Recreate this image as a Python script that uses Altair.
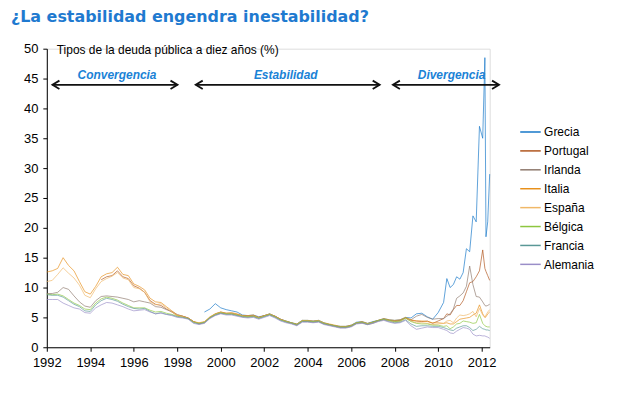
import altair as alt
import pandas as pd

# ---------------- data ----------------
T = [1992.0, 1992.25, 1992.5, 1992.75, 1993.0, 1993.25, 1993.5, 1993.75,
     1994.0, 1994.25, 1994.5, 1994.75, 1995.0, 1995.25, 1995.5, 1995.75,
     1996.0, 1996.25, 1996.5, 1996.75, 1997.0, 1997.25, 1997.5, 1997.75,
     1998.0, 1998.25, 1998.5, 1998.75,
     1999.0, 1999.25, 1999.5, 1999.75, 2000.0, 2000.25, 2000.5, 2000.75,
     2001.0, 2001.25, 2001.5, 2001.75, 2002.0, 2002.25, 2002.5, 2002.75,
     2003.0, 2003.25, 2003.5, 2003.75, 2004.0, 2004.25, 2004.5, 2004.75,
     2005.0, 2005.25, 2005.5, 2005.75, 2006.0, 2006.25, 2006.5, 2006.75,
     2007.0, 2007.25, 2007.5, 2007.75, 2008.0, 2008.25, 2008.5,
     2008.75, 2009.0, 2009.25, 2009.5, 2009.75, 2010.0, 2010.25, 2010.4,
     2010.55, 2010.7, 2010.85, 2011.0, 2011.15, 2011.3, 2011.45, 2011.6,
     2011.75, 2011.9, 2012.05, 2012.15, 2012.2, 2012.28, 2012.37]

N = None
GRECIA = [N] * 29 + [
    5.9, 6.4, 7.3, 6.6, 6.3, 6.1, 5.9,
    5.4, 5.3, 5.4, 5.1, 5.3, 5.6, 5.2, 4.7,
    4.4, 4.1, 3.9, 4.5, 4.5, 4.4, 4.5, 4.1,
    3.8, 3.6, 3.5, 3.5, 3.7, 4.2, 4.3, 4.0,
    4.3, 4.5, 4.8, 4.6, 4.5, 4.6, 5.0,
    4.9, 5.6, 5.7, 5.1, 4.7, 5.8, 7.5, 11.5,
    10.0, 10.5, 11.8, 11.4, 12.5, 16.5, 16.0, 22.0,
    21.0, 37.0, 35.0, 48.5, 18.5, 21.0, 29.0]

PORTUGAL = [N] * 10 + [
    11.3, 11.8, 12.0, 12.8, 11.8, 11.5,
    10.3, 9.9, 9.2, 7.8, 7.2, 7.0, 6.4, 5.9,
    5.3, 5.2, 4.9, 4.3,
    4.0, 4.2, 5.0, 5.6, 5.9, 5.7, 5.7, 5.5,
    5.3, 5.2, 5.3, 5.0, 5.3, 5.5, 5.2, 4.7,
    4.3, 4.1, 3.8, 4.4, 4.4, 4.3, 4.4, 4.0,
    3.8, 3.6, 3.4, 3.4, 3.6, 4.1, 4.2, 3.9,
    4.2, 4.5, 4.7, 4.5, 4.4, 4.5, 4.9,
    4.5, 4.4, 4.3, 4.4, 4.0, 4.4, 4.8, 5.6,
    5.4, 6.3, 7.0, 7.0, 7.8, 9.3, 10.8, 11.0,
    11.8, 12.8, 16.3, 13.2, 12.7, 12.0, 11.2]

IRLANDA = [
    9.0, 9.0, 9.2, 10.0, 9.7, 8.6, 7.6, 6.9,
    6.7, 7.8, 8.5, 8.6, 8.5, 8.4, 8.2, 8.0,
    7.6, 7.8, 7.6, 7.4, 6.8, 6.7, 6.3, 6.0,
    5.5, 5.2, 4.9, 4.3,
    3.9, 4.1, 4.9, 5.4, 5.7, 5.6, 5.6, 5.4,
    5.1, 5.1, 5.2, 4.9, 5.2, 5.5, 5.1, 4.6,
    4.3, 4.0, 3.7, 4.3, 4.3, 4.2, 4.3, 3.9,
    3.7, 3.5, 3.3, 3.3, 3.5, 4.0, 4.1, 3.8,
    4.0, 4.4, 4.7, 4.5, 4.3, 4.4, 4.9,
    4.6, 5.2, 5.5, 5.0, 4.7, 4.8, 4.8, 5.2,
    5.6, 6.4, 8.2, 8.6, 9.1, 10.2, 13.6, 10.5,
    8.5, 8.4, 7.6, 7.0, 6.9, 7.0, 7.2]

ITALIA = [
    12.6, 12.8, 13.2, 15.0, 13.7, 12.8, 11.0, 9.3,
    8.9, 10.2, 11.8, 12.3, 12.5, 13.4, 12.2, 12.0,
    10.6, 10.2, 9.6, 8.2, 7.6, 7.5, 6.8, 6.1,
    5.4, 5.2, 4.9, 4.3,
    4.1, 4.3, 5.1, 5.6, 5.9, 5.7, 5.8, 5.6,
    5.3, 5.3, 5.4, 5.0, 5.3, 5.6, 5.2, 4.7,
    4.4, 4.1, 3.9, 4.5, 4.5, 4.4, 4.5, 4.1,
    3.9, 3.7, 3.5, 3.5, 3.7, 4.1, 4.3, 4.0,
    4.2, 4.5, 4.8, 4.6, 4.5, 4.6, 5.0,
    4.6, 4.4, 4.4, 4.3, 4.1, 4.1, 4.0, 4.1,
    3.9, 3.9, 4.3, 4.7, 4.8, 4.9, 5.0, 5.4,
    5.7, 7.1, 5.6, 5.0, 5.1, 5.6, 5.9]

ESPANA = [
    11.0, 11.2, 12.2, 13.3, 12.4, 11.6, 10.4, 8.7,
    8.3, 9.8, 11.0, 11.5, 11.9, 12.5, 11.6, 11.3,
    10.0, 9.8, 9.2, 7.6, 7.1, 7.3, 6.6, 5.9,
    5.3, 5.1, 4.8, 4.2,
    4.0, 4.2, 5.0, 5.5, 5.8, 5.6, 5.6, 5.4,
    5.2, 5.1, 5.2, 4.9, 5.2, 5.5, 5.1, 4.6,
    4.3, 4.0, 3.8, 4.4, 4.4, 4.3, 4.4, 4.0,
    3.7, 3.5, 3.3, 3.3, 3.5, 4.0, 4.1, 3.9,
    4.1, 4.4, 4.6, 4.4, 4.2, 4.3, 4.8,
    4.4, 4.1, 4.1, 4.0, 3.8, 3.9, 4.0, 4.4,
    4.5, 4.1, 4.9, 5.4, 5.3, 5.4, 5.6, 6.0,
    5.1, 6.5, 5.4, 5.0, 5.4, 5.9, 6.3]

BELGICA = [
    8.9, 8.8, 8.9, 8.6, 8.0, 7.4, 7.0, 6.4,
    6.3, 7.4, 8.1, 8.4, 8.2, 7.9, 7.4, 7.0,
    6.6, 6.6, 6.6, 6.2, 5.9, 6.0, 5.7, 5.5,
    5.2, 5.0, 4.8, 4.2,
    4.0, 4.2, 5.0, 5.5, 5.8, 5.6, 5.6, 5.4,
    5.2, 5.1, 5.2, 4.9, 5.2, 5.5, 5.1, 4.6,
    4.3, 4.1, 3.8, 4.4, 4.4, 4.3, 4.4, 4.0,
    3.8, 3.6, 3.4, 3.4, 3.6, 4.1, 4.2, 3.9,
    4.2, 4.5, 4.7, 4.5, 4.3, 4.4, 4.9,
    4.3, 4.0, 3.9, 3.9, 3.7, 3.7, 3.5, 3.6,
    3.1, 3.4, 3.9, 4.0, 4.4, 4.3, 4.2, 4.0,
    4.1, 5.5, 4.0, 3.6, 3.5, 3.4, 3.4]

FRANCIA = [
    8.8, 8.7, 8.7, 8.4, 7.8, 7.2, 6.8, 6.1,
    6.0, 7.1, 7.8, 8.2, 8.0, 7.7, 7.2, 6.8,
    6.5, 6.4, 6.5, 6.0, 5.6, 5.8, 5.5, 5.4,
    5.1, 5.0, 4.8, 4.1,
    3.9, 4.1, 4.9, 5.4, 5.7, 5.5, 5.5, 5.3,
    5.1, 5.0, 5.1, 4.8, 5.1, 5.4, 5.0, 4.5,
    4.2, 4.0, 3.7, 4.3, 4.3, 4.2, 4.3, 3.9,
    3.7, 3.5, 3.3, 3.3, 3.5, 4.0, 4.1, 3.8,
    4.1, 4.4, 4.6, 4.3, 4.1, 4.2, 4.6,
    3.9, 3.5, 3.6, 3.6, 3.5, 3.5, 3.3, 3.1,
    2.9, 2.8, 3.2, 3.4, 3.6, 3.6, 3.3, 2.8,
    3.0, 3.5, 3.1, 3.0, 2.9, 2.9, 2.8]

ALEMANIA = [
    8.0, 8.0, 8.0, 7.4, 7.0, 6.6, 6.4, 5.8,
    5.7, 6.6, 7.1, 7.5, 7.4, 7.1, 6.8, 6.4,
    6.1, 6.2, 6.3, 5.9, 5.6, 5.7, 5.5, 5.3,
    5.0, 4.9, 4.7, 4.0,
    3.8, 4.0, 4.8, 5.3, 5.6, 5.4, 5.4, 5.2,
    5.0, 4.9, 5.0, 4.7, 5.0, 5.3, 4.9, 4.4,
    4.1, 3.9, 3.6, 4.2, 4.2, 4.1, 4.2, 3.8,
    3.6, 3.4, 3.2, 3.2, 3.4, 3.9, 4.0, 3.8,
    4.0, 4.3, 4.5, 4.2, 4.0, 4.1, 4.5,
    3.6, 3.0, 3.2, 3.4, 3.3, 3.3, 3.0, 2.8,
    2.4, 2.3, 2.7, 3.0, 3.3, 3.2, 3.0, 2.2,
    1.9, 2.0, 1.9, 1.9, 1.8, 1.7, 1.5]

SERIES = ["Grecia", "Portugal", "Irlanda", "Italia", "España", "Bélgica", "Francia", "Alemania"]
VALUES = [GRECIA, PORTUGAL, IRLANDA, ITALIA, ESPANA, BELGICA, FRANCIA, ALEMANIA]
COLORS = ["#1577c8", "#b0561e", "#8f7a6e", "#e8901a", "#f0b868", "#8dc63f", "#5a9896", "#9a8ec8"]

TITLE = "¿La estabilidad engendra inestabilidad?"
SUBTITLE = "Tipos de la deuda pública a diez años (%)"

ANN_TEXT = ["Convergencia", "Estabilidad", "Divergencia"]
ANN_START = [1992.26, 1998.85, 2007.92]
ANN_END = [1998.01, 2007.31, 2012.80]
ANN_MID = [1995.23, 2002.99, 2010.62]
ANN_LEVEL = 43.95

X_TICKS = list(range(1992, 2013, 2))
Y_TICKS = list(range(0, 51, 5))

# ---------------- build ----------------
rows = []
for name, vals in zip(SERIES, VALUES):
    for t, v in zip(T, vals):
        if v is not None:
            rows.append({"serie": name, "t": t, "v": v})
df = pd.DataFrame(rows)

FONT = "Liberation Sans"
W, H = 445, 300
X0, X1 = 1992.0, 2012.37
xscale = alt.Scale(domain=[X0, X1], nice=False, zero=False)
yscale = alt.Scale(domain=[0, 50], nice=False)

lines = alt.Chart(df).mark_line(strokeWidth=0.8, opacity=0.85, clip=False).encode(
    x=alt.X("t:Q", scale=xscale, title=None,
            axis=alt.Axis(values=X_TICKS, format="d", grid=False, labelFont=FONT,
                          labelFontSize=13, labelColor="black", domainColor="black",
                          tickColor="black", tickSize=4, labelPadding=5,
                          labelFlush=False, labelOverlap=False)),
    y=alt.Y("v:Q", scale=yscale, title=None,
            axis=alt.Axis(values=Y_TICKS, tickCount=11, grid=False, labelFont=FONT,
                          labelFontSize=13, labelColor="black", domainColor="black",
                          tickColor="black", tickSize=4, labelPadding=5,
                          labelOverlap=False, labelFlush=False)),
    color=alt.Color("serie:N", scale=alt.Scale(domain=SERIES, range=COLORS), legend=None),
    order=alt.Order("t:Q"),
)

# Manual legend (positions in data units of the main scales)
px_per_year = W / (X1 - X0)
px_per_unit = H / 50.0
leg = pd.DataFrame({
    "serie": SERIES,
    "x1": [X0 + 475.7 / px_per_year] * len(SERIES),
    "x2": [X0 + 496.3 / px_per_year] * len(SERIES),
    "xt": [X0 + 499.7 / px_per_year] * len(SERIES),
    "y": [50 - (83.7 + 19.0 * i) / px_per_unit for i in range(len(SERIES))],
})
leg_lines = alt.Chart(leg).mark_rule(strokeWidth=1.5).encode(
    x=alt.X("x1:Q", scale=xscale), x2="x2:Q", y=alt.Y("y:Q", scale=yscale),
    color=alt.Color("serie:N", scale=alt.Scale(domain=SERIES, range=COLORS), legend=None),
)
leg_text = alt.Chart(leg).mark_text(align="left", baseline="middle", font=FONT,
                                    fontSize=12, color="black", dy=0.5).encode(
    x=alt.X("xt:Q", scale=xscale), y=alt.Y("y:Q", scale=yscale), text="serie:N",
)

# Period annotations
ann = pd.DataFrame({"label": ANN_TEXT, "x1": ANN_START, "x2": ANN_END,
                    "xm": ANN_MID, "y": [ANN_LEVEL] * 3})
ann_rule = alt.Chart(ann).mark_rule(strokeWidth=1.8, color="#111111").encode(
    x=alt.X("x1:Q", scale=xscale), x2="x2:Q", y=alt.Y("y:Q", scale=yscale))
head_l = alt.Chart(ann).mark_point(shape="M2,-1.2L0,0L2,1.2", size=49, filled=False,
                                   strokeWidth=1.8, color="#111111", opacity=1).encode(
    x=alt.X("x1:Q", scale=xscale), y=alt.Y("y:Q", scale=yscale))
head_r = alt.Chart(ann).mark_point(shape="M-2,-1.2L0,0L-2,1.2", size=49, filled=False,
                                   strokeWidth=1.8, color="#111111", opacity=1).encode(
    x=alt.X("x2:Q", scale=xscale), y=alt.Y("y:Q", scale=yscale))
ann_text = alt.Chart(ann).mark_text(font=FONT, fontSize=12, fontWeight="bold",
                                    fontStyle="italic", color="#1a82d6",
                                    baseline="alphabetic", align="center", dy=-5.5).encode(
    x=alt.X("xm:Q", scale=xscale), y=alt.Y("y:Q", scale=yscale), text="label:N")

title = alt.Chart(pd.DataFrame({"t": [TITLE]})).mark_text(
    font="DejaVu Sans", fontSize=16, fontWeight="bold", color="#1f7ad0", align="left",
    baseline="alphabetic").encode(x=alt.value(-36), y=alt.value(-27), text="t:N")
subtitle = alt.Chart(pd.DataFrame({"t": [SUBTITLE]})).mark_text(
    font=FONT, fontSize=12, color="black", align="left",
    baseline="alphabetic").encode(x=alt.value(10), y=alt.value(5.5), text="t:N")

chart = alt.layer(lines, ann_rule, head_l, head_r, ann_text, leg_lines, leg_text,
                  title, subtitle).properties(
    width=W, height=H,
    autosize=alt.AutoSizeParams(type="none"),
    padding={"left": 39, "top": 40, "right": 140, "bottom": 30},
).configure_view(stroke=None).configure(background="white")

chart.save("out.html", embed_options={"renderer": "svg", "actions": False})
